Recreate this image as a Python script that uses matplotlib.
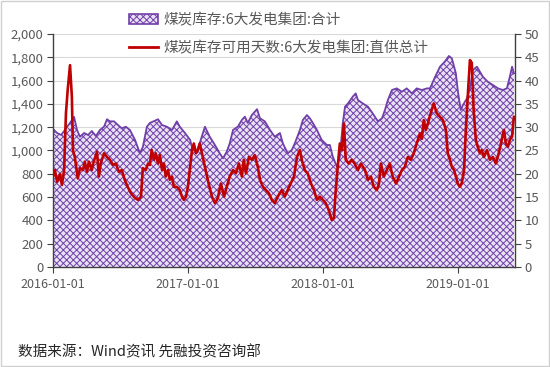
import numpy as np
import pandas as pd
import matplotlib
matplotlib.use("Agg")
import matplotlib.pyplot as plt
import matplotlib.dates as mdates
from matplotlib.patches import Patch, Rectangle
from matplotlib.lines import Line2D
from matplotlib.ticker import FuncFormatter, MultipleLocator

plt.rcParams['font.family'] = ['Noto Sans CJK SC', 'DejaVu Sans']
plt.rcParams['hatch.linewidth'] = 0.7

### coal stock of the 6 big power groups (10k t)
stock_dates = ['2016-01-01','2016-01-12','2016-01-23','2016-01-31','2016-02-08','2016-02-16','2016-02-27',
               '2016-03-06','2016-03-14','2016-03-25','2016-04-05','2016-04-15','2016-04-26','2016-05-07',
               '2016-05-18','2016-05-26','2016-06-03','2016-06-14','2016-06-25','2016-07-05','2016-07-16',
               '2016-07-27','2016-08-10','2016-08-23','2016-08-31','2016-09-11','2016-09-19','2016-10-03',
               '2016-10-11','2016-10-22','2016-11-04','2016-11-18','2016-12-01','2016-12-09','2016-12-23',
               '2017-01-06','2017-01-13','2017-01-24','2017-02-01','2017-02-15','2017-02-28','2017-03-14',
               '2017-03-27','2017-04-05','2017-04-15','2017-04-23','2017-05-02','2017-05-15','2017-05-26',
               '2017-06-03','2017-06-11','2017-06-22','2017-07-06','2017-07-14','2017-07-27','2017-08-10',
               '2017-08-23','2017-09-06','2017-09-14','2017-09-27','2017-10-08','2017-10-16','2017-10-30',
               '2017-11-07','2017-11-18','2017-11-26','2017-12-04','2017-12-15','2017-12-28','2018-01-11',
               '2018-01-19','2018-01-27','2018-02-07','2018-02-15','2018-02-23','2018-03-01','2018-03-09',
               '2018-03-22','2018-03-30','2018-04-05','2018-04-18','2018-05-02','2018-05-15','2018-05-29',
               '2018-06-09','2018-06-17','2018-06-25','2018-07-06','2018-07-19','2018-08-02','2018-08-15',
               '2018-08-29','2018-09-11','2018-09-25','2018-10-09','2018-10-17','2018-10-31','2018-11-13',
               '2018-11-26','2018-12-07','2018-12-15','2018-12-26','2018-12-31','2019-01-08','2019-01-14',
               '2019-01-25','2019-02-02','2019-02-10','2019-02-21','2019-03-01','2019-03-09','2019-03-22',
               '2019-04-05','2019-04-19','2019-05-02','2019-05-13','2019-05-21','2019-05-27','2019-06-01']
stock_values = [1184,1150,1133,1167,1204,1236,1288,1176,1118,1150,1133,1167,1124,1176,1204,1268,1250,1250,
                1218,1190,1204,1176,1090,976,1030,1204,1236,1256,1268,1218,1204,1176,1250,1204,1150,1090,
                1004,990,1064,1204,1118,1047,976,933,990,1060,1176,1204,1262,1290,1236,1304,1354,1276,1250,
                1176,1118,1150,1060,976,1004,1060,1176,1262,1304,1276,1236,1176,1090,1047,1047,947,861,947,
                1236,1376,1404,1462,1490,1433,1404,1376,1318,1250,1276,1347,1433,1519,1533,1504,1533,1490,
                1533,1519,1533,1533,1633,1719,1762,1811,1791,1662,1519,1347,1390,1447,1533,1691,1719,1676,
                1633,1590,1562,1533,1519,1533,1633,1719,1662]

### available days of coal stock
days_dates = ['2016-01-01','2016-01-06','2016-01-12','2016-01-20','2016-01-25','2016-01-31','2016-02-05',
              '2016-02-10','2016-02-16','2016-02-21','2016-02-24','2016-02-29','2016-03-08','2016-03-14',
              '2016-03-22','2016-03-27','2016-04-02','2016-04-07','2016-04-15','2016-04-20','2016-04-29',
              '2016-05-04','2016-05-09','2016-05-18','2016-05-26','2016-06-03','2016-06-11','2016-06-19',
              '2016-06-27','2016-07-05','2016-07-13','2016-07-21','2016-07-30','2016-08-10','2016-08-18',
              '2016-08-26','2016-08-31','2016-09-08','2016-09-14','2016-09-19','2016-09-24','2016-09-30',
              '2016-10-05','2016-10-11','2016-10-16','2016-10-22','2016-10-27','2016-11-01','2016-11-07',
              '2016-11-12','2016-11-18','2016-11-23','2016-12-01','2016-12-09','2016-12-15','2016-12-20',
              '2016-12-26','2016-12-31','2017-01-05','2017-01-11','2017-01-16','2017-01-22','2017-01-27',
              '2017-02-01','2017-02-09','2017-02-17','2017-02-25','2017-03-06','2017-03-14','2017-03-22',
              '2017-03-30','2017-04-08','2017-04-15','2017-04-23','2017-05-02','2017-05-10','2017-05-18',
              '2017-05-26','2017-05-31','2017-06-06','2017-06-14','2017-06-22','2017-06-30','2017-07-08',
              '2017-07-14','2017-07-22','2017-07-30','2017-08-07','2017-08-15','2017-08-23','2017-08-31',
              '2017-09-11','2017-09-19','2017-09-27','2017-10-05','2017-10-14','2017-10-22','2017-10-30',
              '2017-11-04','2017-11-12','2017-11-20','2017-11-29','2017-12-07','2017-12-15','2017-12-23',
              '2017-12-31','2018-01-08','2018-01-16','2018-01-24','2018-01-30','2018-02-04','2018-02-10',
              '2018-02-15','2018-02-21','2018-02-26','2018-03-03','2018-03-11','2018-03-19','2018-03-27',
              '2018-04-05','2018-04-13','2018-04-24','2018-05-02','2018-05-10','2018-05-18','2018-05-26',
              '2018-06-01','2018-06-06','2018-06-14','2018-06-22','2018-06-30','2018-07-08','2018-07-17',
              '2018-07-25','2018-08-02','2018-08-10','2018-08-18','2018-08-26','2018-09-03','2018-09-11',
              '2018-09-20','2018-09-25','2018-09-30','2018-10-06','2018-10-11','2018-10-19','2018-10-27',
              '2018-11-04','2018-11-13','2018-11-21','2018-11-29','2018-12-04','2018-12-10','2018-12-15',
              '2018-12-21','2018-12-26','2018-12-31','2019-01-06','2019-01-11','2019-01-17','2019-01-22',
              '2019-01-27','2019-02-02','2019-02-07','2019-02-12','2019-02-18','2019-02-23','2019-03-01',
              '2019-03-06','2019-03-12','2019-03-20','2019-03-28','2019-04-05','2019-04-13','2019-04-21',
              '2019-04-29','2019-05-05','2019-05-10','2019-05-16','2019-05-21','2019-05-27','2019-06-01']
days_values = [19.4,20.8,18.3,19.9,17.6,20.8,33,38.3,43.3,36.5,25,23.6,19,21.2,20.8,22.6,20.4,22.6,20.8,
               22.6,24.7,19.4,22.2,24.4,23.6,23,21.9,22.2,20.4,20.8,18.7,17.2,15.8,14.8,14.4,15.1,21.2,
               20.8,22.2,21.9,25.1,23,24.4,22.2,24,20.8,22.2,19.4,20.8,18.7,19.4,17.2,17.2,16.5,15.1,14.4,
               15.1,17.2,20.8,25.1,26.5,24.4,25.1,26.5,23.6,20.8,17.9,15.1,13.7,14.8,17.9,15.1,17.2,19.4,
               20.8,20.1,22.2,19.4,23,20.1,23.6,23,24,21.5,18.7,17.2,16.5,15.8,14.4,13.7,15.1,16.5,15.1,
               16.5,17.9,19.4,23.6,25.1,23,20.8,20.1,17.9,16.5,14.4,15.1,14.4,13.7,12.2,10.1,10.5,16.5,
               22.2,26.5,25.1,30.8,23,22.2,23,22.2,20.8,22.2,20.8,18.7,19.4,17.2,16.5,17.9,22.2,19.4,20.8,
               22.2,19.4,17.9,19.4,20.8,21.5,23.6,23,24.4,26.5,28.7,27.5,31.5,29.4,30.8,33,35.1,33,32.2,
               31.5,29.4,24.4,23,21.5,20.8,19.4,17.9,17.2,18,20.8,29.4,36.5,44.4,43.8,33.7,27.3,25.8,24.4,
               25.1,23.6,25.1,23,23.6,22.2,24.4,27.3,29.4,26.5,25.8,27.3,28,32.2]

label_stock = '煤炭库存:6大发电集团:合计'
label_days = '煤炭库存可用天数:6大发电集团:直供总计'
source_text = '数据来源：Wind资讯 先融投资咨询部'
year_ticks = ['2016-01-01', '2017-01-01', '2018-01-01', '2019-01-01']

purple = '#7040a8'
face = '#e9e1f4'
red = '#c00000'
grey = '#595959'

sd = pd.to_datetime(stock_dates)
dd = pd.to_datetime(days_dates)

fig = plt.figure(figsize=(5.5, 3.67), dpi=100)
ax = fig.add_axes([0.0964, 0.2725, 0.84, 0.635])
ax2 = ax.twinx()

ax.set_axisbelow(True)
ax.grid(axis='y', color='#d9d9d9', lw=0.8)
ax.fill_between(sd, 0, stock_values, facecolor=face, edgecolor=purple, hatch='xxxxx', lw=0)
ax.plot(sd, stock_values, color=purple, lw=1.3)
ax2.plot(dd, days_values, color=red, lw=1.9)

ax.set_ylim(0, 2000)
ax.yaxis.set_major_locator(MultipleLocator(200))
ax.yaxis.set_major_formatter(FuncFormatter(lambda v, p: f'{v:,.0f}'))
ax2.set_ylim(0, 50)
ax2.yaxis.set_major_locator(MultipleLocator(5))

ax.set_xlim(pd.Timestamp('2016-01-01'), pd.Timestamp('2019-06-04'))
ax.set_xticks(pd.to_datetime(year_ticks))
ax.xaxis.set_major_formatter(mdates.DateFormatter('%Y-%m-%d'))

for a in (ax, ax2):
    for s in a.spines.values():
        s.set_visible(False)
ax.spines['left'].set_visible(True)
ax.spines['bottom'].set_visible(True)
ax2.spines['right'].set_visible(True)
for s in (ax.spines['left'], ax.spines['bottom'], ax2.spines['right']):
    s.set_color('#404040')
    s.set_linewidth(1.0)

ax.tick_params(axis='y', length=4, color='#404040', labelcolor=grey, labelsize=9.5, pad=3)
ax.tick_params(axis='x', length=4, color='#404040', labelcolor=grey, labelsize=9, pad=4)
ax2.tick_params(axis='y', length=4, color='#404040', labelcolor=grey, labelsize=9.5, pad=3)

handles = [Patch(facecolor=face, edgecolor=purple, hatch='xxxxx', lw=1.2),
           Line2D([0], [0], color=red, lw=2)]
fig.legend(handles, [label_stock, label_days], loc='upper left', bbox_to_anchor=(0.235, 0.965),
           frameon=False, fontsize=10.5, labelcolor=grey, borderaxespad=0, borderpad=0,
           handlelength=2.0, handletextpad=0.35, labelspacing=0.95)

fig.text(0.033, 0.041, source_text, fontsize=10.5, color='#262626', va='center')
fig.patches.append(Rectangle((0.001, 0.002), 0.997, 0.996, transform=fig.transFigure,
                             fill=False, edgecolor='#d0d0d0', lw=1))

fig.savefig('out.png', dpi=100)
